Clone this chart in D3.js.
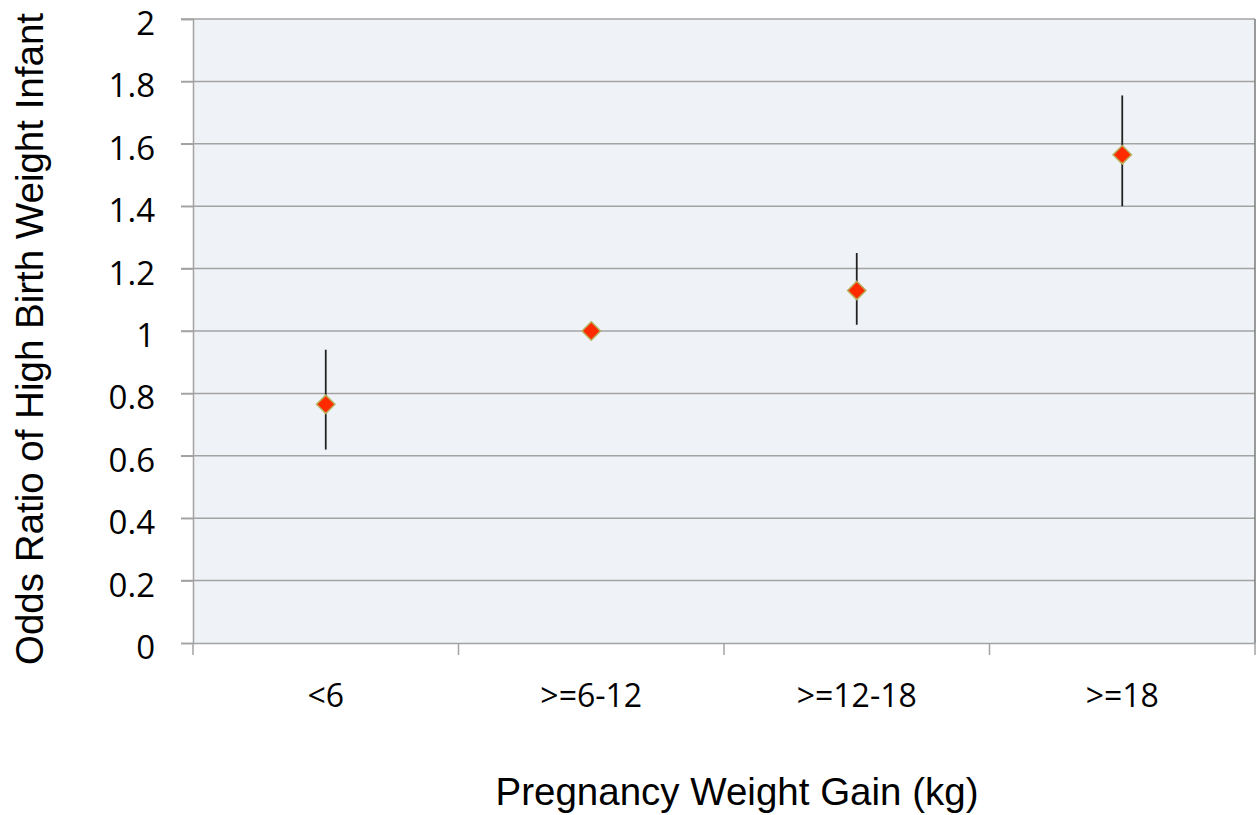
<!DOCTYPE html>
<html>
<head>
<meta charset="utf-8">
<script src="https://cdn.jsdelivr.net/npm/d3@7"></script>
<style>
  body { margin: 0; background: #fff; }
</style>
</head>
<body>
<div id="chart"></div>
<script>
// odds ratios
const categories = ["<6", ">=6-12", ">=12-18", ">=18"];
const oddsRatio = [0.765, 1.0, 1.13, 1.565];
const ciLow = [0.62, null, 1.02, 1.40];
const ciHigh = [0.94, null, 1.25, 1.755];
const yTicks = [0, 0.2, 0.4, 0.6, 0.8, 1, 1.2, 1.4, 1.6, 1.8, 2];

const width = 1256, height = 815;
const margin = {top: 19, right: 1, bottom: 172, left: 193};

const data = categories.map((c, i) => ({cat: c, or: oddsRatio[i], lo: ciLow[i], hi: ciHigh[i]}));

let svg = d3.select('#chart')
  .append('svg')
  .attr('width', width)
  .attr('height', height);

let xScale = d3.scaleBand()
  .domain(categories)
  .range([margin.left, width - margin.right]);

let yScale = d3.scaleLinear()
  .domain([0, 2])
  .range([height - margin.bottom, margin.top]);

// plot background
svg.append('rect')
  .attr('x', margin.left)
  .attr('y', margin.top)
  .attr('width', width - margin.right - margin.left)
  .attr('height', height - margin.bottom - margin.top)
  .attr('fill', '#eff2f7');

// gridlines
svg.append('g')
  .selectAll('line')
  .data(yTicks.filter(d => d > 0))
  .enter()
  .append('line')
  .attr('x1', margin.left - 12)
  .attr('x2', width - margin.right)
  .attr('y1', d => yScale(d))
  .attr('y2', d => yScale(d))
  .attr('stroke', '#a3a3a3')
  .attr('stroke-width', 1.5);

// right border
svg.append('line')
  .attr('x1', width - margin.right).attr('x2', width - margin.right)
  .attr('y1', margin.top).attr('y2', height - margin.bottom)
  .attr('stroke', '#7a7a7a').attr('stroke-width', 1.5);

// y axis
let yAxis = svg.append('g')
  .attr('transform', `translate(${margin.left}, 0)`)
  .call(d3.axisLeft(yScale).tickValues(yTicks).tickSize(12).tickPadding(26).tickFormat(d3.format('')));
yAxis.select('.domain').attr('stroke', '#a3a3a3').attr('stroke-width', 1.5);
yAxis.selectAll('.tick line').attr('stroke', '#a3a3a3').attr('stroke-width', 1.5);
yAxis.selectAll('text')
  .style('font-family', '"Open Sans", sans-serif')
  .style('font-size', '33px')
  .attr('fill', '#000')
  .attr('dy', '0.47em');

// x axis
let xAxis = svg.append('g')
  .attr('transform', `translate(0, ${height - margin.bottom})`)
  .call(d3.axisBottom(xScale).tickSize(0).tickPadding(41));
xAxis.select('.domain').attr('stroke', '#a3a3a3').attr('stroke-width', 1.5);
xAxis.selectAll('text')
  .style('font-family', '"Open Sans", sans-serif')
  .style('font-size', '32px')
  .attr('fill', '#000');

// category separator ticks
const bounds = categories.map(c => xScale(c)).concat([width - margin.right]);
svg.append('g')
  .selectAll('line')
  .data(bounds)
  .enter()
  .append('line')
  .attr('x1', d => d).attr('x2', d => d)
  .attr('y1', height - margin.bottom)
  .attr('y2', height - margin.bottom + 12)
  .attr('stroke', '#a3a3a3')
  .attr('stroke-width', 1.5);

// error bars
svg.append('g')
  .selectAll('line')
  .data(data.filter(d => d.lo !== null))
  .enter()
  .append('line')
  .attr('x1', d => xScale(d.cat) + xScale.bandwidth() / 2)
  .attr('x2', d => xScale(d.cat) + xScale.bandwidth() / 2)
  .attr('y1', d => yScale(d.lo))
  .attr('y2', d => yScale(d.hi))
  .attr('stroke', '#222')
  .attr('stroke-width', 1.8);

// diamonds
svg.append('g')
  .selectAll('path')
  .data(data)
  .enter()
  .append('path')
  .attr('d', d3.symbol().type(d3.symbolDiamond2).size(215))
  .attr('transform', d => `translate(${xScale(d.cat) + xScale.bandwidth() / 2}, ${yScale(d.or)})`)
  .attr('fill', '#ff2a00')
  .attr('stroke', '#b9ae5a')
  .attr('stroke-width', 1.5);

// axis titles
svg.append('text')
  .attr('x', 737)
  .attr('y', 805)
  .attr('text-anchor', 'middle')
  .style('font-family', '"Liberation Sans", Arial, sans-serif')
  .style('font-size', '38.5px')
  .text('Pregnancy Weight Gain (kg)');

svg.append('text')
  .attr('transform', 'translate(43, 339) rotate(-90)')
  .attr('text-anchor', 'middle')
  .style('font-family', '"Liberation Sans", Arial, sans-serif')
  .style('font-size', '38.5px')
  .text('Odds Ratio of High Birth Weight Infant');
</script>
</body>
</html>
